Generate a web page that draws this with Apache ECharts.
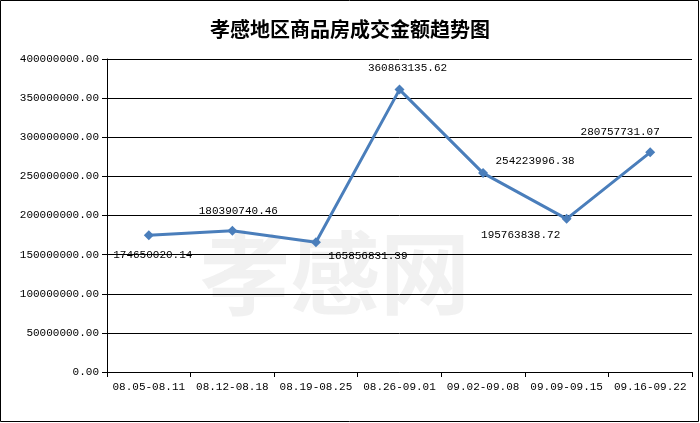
<!DOCTYPE html>
<html><head><meta charset="utf-8">
<script src="https://cdn.jsdelivr.net/npm/echarts@6/dist/echarts.min.js"></script>
<style>html,body{margin:0;padding:0;background:#fff}#c{width:700px;height:423px}</style>
</head><body><div id="c"></div>
<script>
const categories = ["08.05-08.11","08.12-08.18","08.19-08.25","08.26-09.01","09.02-09.08","09.09-09.15","09.16-09.22"];
const values = [174650020.14,180390740.46,165856831.39,360863135.62,254223996.38,195763838.72,280757731.07];
const labelPos = [[4,20],[6,-20],[52,14],[8,-22],[52,-12],[-46,16],[-30,-20]];
const chart = echarts.init(document.getElementById('c'));
const font = "'Liberation Mono','DejaVu Sans Mono',monospace";
chart.setOption({
  animation:false,
  backgroundColor:'#fff',
  title:{text:'孝感地区商品房成交金额趋势图',left:'center',top:14,
    textStyle:{fontFamily:"'Noto Sans CJK SC'",fontSize:20,fontWeight:'bold',color:'#000'}},
  graphic:[
    {type:'rect',shape:{x:0.5,y:0.5,width:698,height:421},style:{fill:'none',stroke:'#000',lineWidth:1}},
    {type:'text',left:200,top:228,style:{text:'孝感网',font:"bold 90px 'Noto Sans CJK SC'",fill:'rgba(200,200,200,0.25)'},z:-1}
  ],
  grid:{left:107,right:8,top:59,bottom:51},
  xAxis:{type:'category',data:categories,boundaryGap:true,
    axisLine:{lineStyle:{color:'#000'}},axisTick:{show:true,lineStyle:{color:'#000'}},
    axisLabel:{fontFamily:font,fontSize:11,color:'#000',margin:10,interval:0}},
  yAxis:{type:'value',min:0,max:400000000,interval:50000000,
    axisLine:{show:true,lineStyle:{color:'#000'}},axisTick:{show:true,lineStyle:{color:'#000'}},
    splitLine:{lineStyle:{color:'#000',width:1}},
    axisLabel:{fontFamily:font,fontSize:11,color:'#000',formatter:v=>v.toFixed(2)}},
  series:[{type:'line',data:values.map((v,i)=>({value:v,label:{offset:labelPos[i]}})),
    symbol:'diamond',symbolSize:10,
    lineStyle:{color:'#4a7ebb',width:3},itemStyle:{color:'#4a7ebb'},
    label:{show:true,position:'inside',fontFamily:font,fontSize:11,color:'#000',
      formatter:p=>p.value.toFixed(2)}}]
});
</script></body></html>
